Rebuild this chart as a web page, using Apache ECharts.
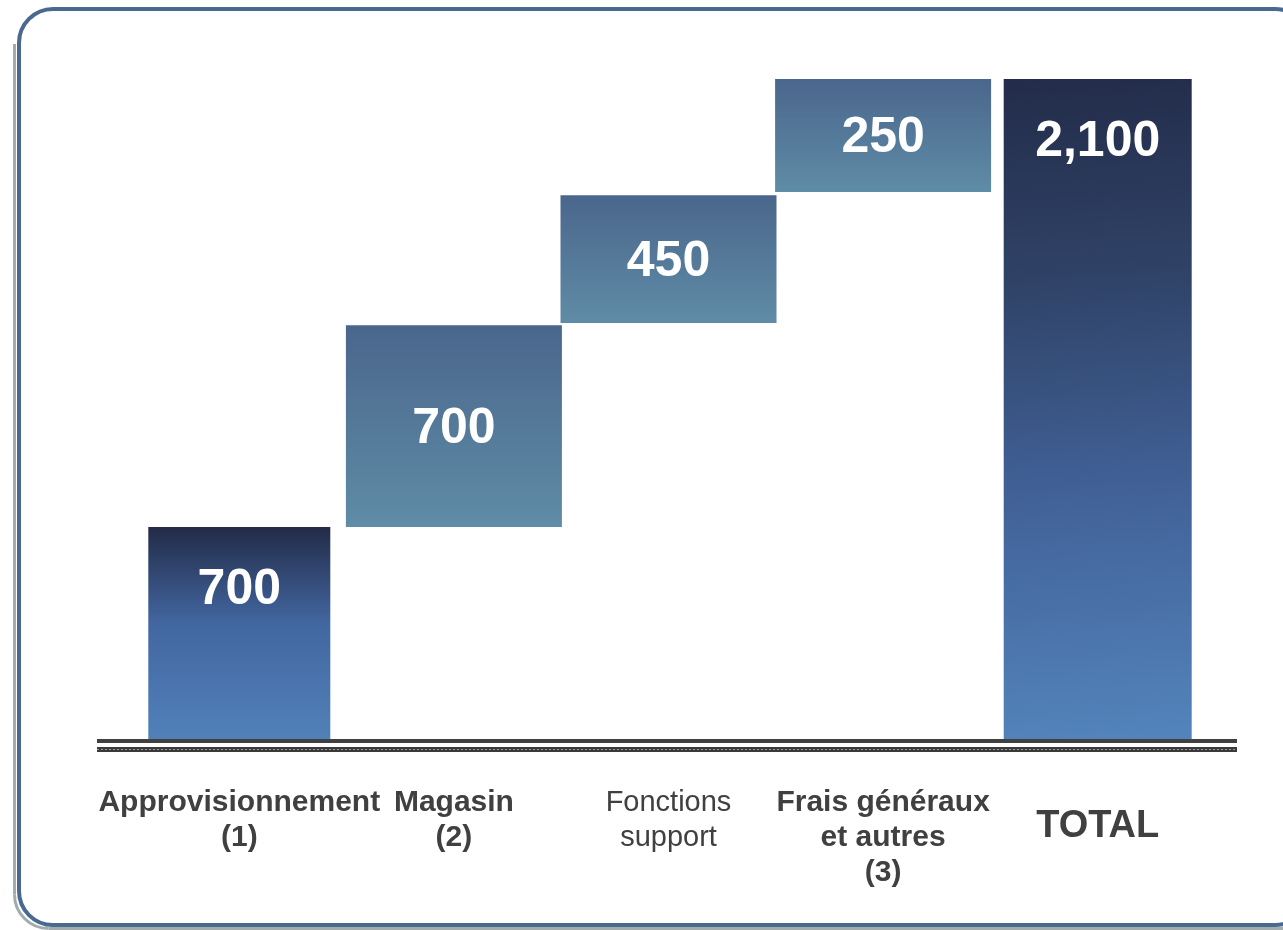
<!DOCTYPE html>
<html><head><meta charset="utf-8">
<script src="https://cdn.jsdelivr.net/npm/echarts@6/dist/echarts.min.js"></script>
<style>html,body{margin:0;padding:0;background:#fff}#c{width:1283px;height:930px}</style>
</head><body><div id="c"></div>
<script>
// ---- data ----
const categories = ['Approvisionnement\n(1)', 'Magasin\n(2)', 'Fonctions\nsupport', 'Frais généraux\net autres\n(3)', 'TOTAL'];
const valueLabels = [700, 700, 450, 250, 2100];
const barStart = [0, 677, 1325, 1741, 0];
const barEnd = [677, 1318, 1731, 2100, 2100];
const yMin = 0;
const yMax = 2100;

// ---- styles ----
const FONT = '"Liberation Sans", Arial, Helvetica, sans-serif';
const barWidths = [182, 216, 216, 216, 188];
const labelAtTop = [true, false, false, false, true];
const grad = (x2, y2, stops) => ({type: 'linear', x: 0, y: 0, x2: x2, y2: y2, global: false,
  colorStops: stops.map(s => ({offset: s[0], color: s[1]}))});
const totalFill = () => grad(0, 1, [[0, '#222b47'], [0.45, '#4266a0'], [1, '#5181b9']]);
const bigFill = () => grad(0.25, 1, [[0, '#232c4a'], [0.3, '#2f4266'], [0.65, '#42639a'], [1, '#5283ba']]);
const stepFill = () => grad(0, 1, [[0, '#4a668c'], [1, '#5f8ca6']]);
const fills = [totalFill(), stepFill(), stepFill(), stepFill(), bigFill()];
const fmt = v => v.toLocaleString('en-US');
const styleKeys = ['b', 'b', 'n', 'b', 't'];

const chart = echarts.init(document.getElementById('c'), null, {renderer: 'canvas'});
chart.setOption({
  backgroundColor: '#ffffff',
  animation: false,
  grid: {left: 132, right: 78, top: 79, bottom: 190, containLabel: false, outerBoundsMode: 'none'},
  xAxis: {
    type: 'category',
    data: categories,
    axisLine: {show: false},
    axisTick: {show: false},
    splitLine: {show: false},
    axisLabel: {
      interval: 0,
      margin: 45,
      formatter: (v, i) => v.split('\n').map(l => '{' + styleKeys[i] + '|' + l + '}').join('\n'),
      rich: {
        b: {fontFamily: FONT, fontSize: 30, fontWeight: 'bold', color: '#404040', lineHeight: 35},
        n: {fontFamily: FONT, fontSize: 29, fontWeight: 'normal', color: '#404040', lineHeight: 35},
        t: {fontFamily: FONT, fontSize: 38, fontWeight: 'bold', color: '#404040', lineHeight: 83}
      }
    }
  },
  yAxis: {type: 'value', min: yMin, max: yMax, show: false, splitLine: {show: false}},
  series: [{
    type: 'custom',
    data: categories.map((c, i) => [i, barStart[i], barEnd[i]]),
    encode: {x: 0, y: [1, 2]},
    renderItem: (params, api) => {
      const i = api.value(0);
      const p0 = api.coord([i, api.value(1)]);
      const p1 = api.coord([i, api.value(2)]);
      const w = barWidths[i];
      const yTop = p1[1], h = p0[1] - p1[1];
      const ly = labelAtTop[i] ? yTop + 63 : yTop + h / 2 + 3;
      return {type: 'group', children: [
        {type: 'rect', shape: {x: p0[0] - w / 2, y: yTop, width: w, height: h}, style: {fill: fills[i]}},
        {type: 'text', style: {text: fmt(valueLabels[i]), x: p0[0], y: ly, fill: '#ffffff',
          font: 'bold 50px ' + FONT, align: 'center', verticalAlign: 'middle'}}
      ]};
    }
  }],
  graphic: [
    {type: 'line', z: 1, shape: {x1: 14.5, y1: 44, x2: 14.5, y2: 894.5}, style: {stroke: '#a2acac', lineWidth: 3}},
    {type: 'arc', z: 1, shape: {cx: 48.5, cy: 894.5, r: 34, startAngle: Math.PI / 2, endAngle: Math.PI, clockwise: true},
      style: {stroke: '#a2acac', lineWidth: 3, fill: null}},
    {type: 'line', z: 1, shape: {x1: 48.5, y1: 928.5, x2: 1300, y2: 928.5}, style: {stroke: '#a2acac', lineWidth: 3}},
    {type: 'rect', z: 2, shape: {x: 19, y: 9, width: 1290, height: 916, r: 34},
      style: {stroke: '#4a6991', lineWidth: 4, fill: null}},
    {type: 'rect', z: 10, shape: {x: 97, y: 739, width: 1140, height: 4}, style: {fill: '#404040'}},
    {type: 'rect', z: 10, shape: {x: 97, y: 747, width: 1140, height: 5}, style: {fill: '#3a3a3a'}},
    {type: 'line', z: 11, shape: {x1: 97, y1: 749.5, x2: 1237, y2: 749.5},
      style: {stroke: '#9a9a9a', lineWidth: 1, lineDash: [2, 2]}}
  ]
});
</script></body></html>
